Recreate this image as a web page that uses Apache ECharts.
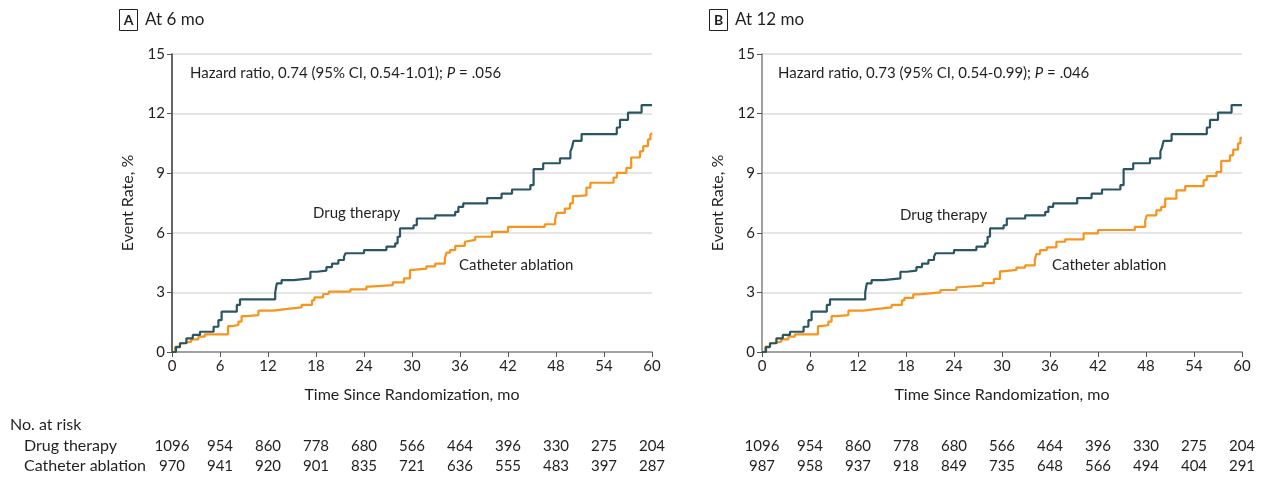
<!DOCTYPE html>
<html>
<head>
<meta charset="utf-8">
<script src="https://cdn.jsdelivr.net/npm/echarts@6/dist/echarts.min.js"></script>
<style>
html,body{margin:0;padding:0;background:#fff;}
#c{width:1265px;height:493px;}
</style>
</head>
<body>
<div id="c"></div>
<script>
// ---- Data (months, cumulative event rate %) ----
const timeTicks = [0, 6, 12, 18, 24, 30, 36, 42, 48, 54, 60];
const yTicks = [0, 3, 6, 9, 12, 15];

const drugA = [[0,0],[0.5,0.25],[1,0.44],[1.8,0.69],[2.6,0.86],[3.5,1.02],[5.2,1.27],[5.8,1.6],[6.2,2.03],[8.1,2.37],[8.5,2.65],[12.9,3.0],[13.1,3.45],[13.7,3.62],[15.2,3.71],[17.3,4.04],[18.1,4.1],[19.3,4.27],[20.0,4.45],[20.8,4.63],[21.5,4.8],[21.7,4.97],[24.0,5.13],[26.8,5.3],[27.9,5.47],[28.2,5.8],[28.5,6.22],[30.2,6.38],[30.6,6.72],[32.9,6.88],[35.4,7.05],[35.8,7.3],[36.4,7.48],[39.4,7.75],[41.2,7.97],[42.5,8.18],[44.8,8.4],[45.2,9.21],[46.4,9.5],[48.5,9.75],[49.8,10.08],[50.0,10.3],[50.2,10.63],[51.2,10.97],[55.6,11.3],[56.0,11.68],[57.0,12.05],[58.7,12.43],[60,12.43]];

const cathA = [[0,0],[0.4,0.27],[1.0,0.44],[1.4,0.52],[2.4,0.64],[3.3,0.77],[4.1,0.89],[7.0,1.3],[7.5,1.36],[8.3,1.53],[8.7,1.81],[9.3,1.86],[10.8,2.08],[12.7,2.15],[13.9,2.25],[16.2,2.37],[17.5,2.6],[17.8,2.75],[18.9,2.92],[19.6,3.04],[22.3,3.15],[24.3,3.29],[24.7,3.37],[27.6,3.5],[29.0,3.71],[29.75,4.13],[30.1,4.2],[31.8,4.31],[32.9,4.45],[34.1,4.7],[34.3,5.0],[34.75,5.13],[35.4,5.34],[36.6,5.55],[36.8,5.64],[37.9,5.8],[40.0,6.05],[42.0,6.3],[46.6,6.43],[47.9,6.7],[48.1,7.0],[49.1,7.22],[49.75,7.48],[50.1,7.85],[50.6,7.88],[51.8,8.27],[52.3,8.52],[55.2,8.78],[55.6,9.02],[56.8,9.27],[57.4,9.79],[58.5,10.1],[58.9,10.36],[59.5,10.7],[59.8,10.95],[60,11.02]];

const drugB = [[0,0],[0.5,0.25],[1,0.44],[1.8,0.69],[2.6,0.86],[3.5,1.02],[5.2,1.27],[5.8,1.6],[6.2,2.03],[8.1,2.37],[8.5,2.65],[12.9,3.0],[13.1,3.45],[13.7,3.62],[15.2,3.71],[17.3,4.04],[18.1,4.1],[19.3,4.27],[20.0,4.45],[20.8,4.63],[21.5,4.8],[21.7,4.97],[24.0,5.13],[26.8,5.3],[27.9,5.47],[28.2,5.8],[28.5,6.22],[30.2,6.38],[30.6,6.72],[32.9,6.88],[35.4,7.05],[35.8,7.3],[36.4,7.48],[39.4,7.75],[41.2,7.97],[42.5,8.18],[44.8,8.4],[45.2,9.21],[46.4,9.5],[48.5,9.75],[49.8,10.08],[50.0,10.3],[50.2,10.63],[51.2,10.97],[55.6,11.3],[56.0,11.68],[57.0,12.05],[58.7,12.43],[60,12.43]];

const cathB = [[0,0],[0.4,0.27],[1.0,0.44],[1.4,0.52],[2.4,0.64],[3.3,0.77],[4.1,0.89],[7.0,1.3],[7.5,1.36],[8.3,1.53],[8.7,1.81],[9.3,1.86],[10.8,2.08],[12.7,2.15],[13.9,2.25],[16.2,2.37],[17.5,2.6],[17.8,2.72],[18.9,2.9],[19.6,3.0],[22.3,3.12],[24.3,3.26],[24.7,3.34],[27.6,3.47],[29.0,3.68],[29.75,4.06],[30.1,4.13],[31.8,4.25],[32.9,4.36],[34.1,4.65],[34.3,4.93],[34.75,5.13],[35.6,5.27],[36.8,5.55],[37.9,5.67],[40.2,5.97],[42.0,6.14],[46.6,6.3],[47.9,6.6],[48.1,6.88],[49.3,7.13],[49.9,7.3],[50.4,7.72],[51.8,8.14],[52.9,8.35],[55.2,8.65],[55.6,8.85],[56.8,9.06],[57.4,9.62],[58.5,9.9],[58.9,10.19],[59.5,10.5],[59.8,10.78],[60,10.8]];

const riskDrugA = [1096, 954, 860, 778, 680, 566, 464, 396, 330, 275, 204];
const riskCathA = [970, 941, 920, 901, 835, 721, 636, 555, 483, 397, 287];
const riskDrugB = [1096, 954, 860, 778, 680, 566, 464, 396, 330, 275, 204];
const riskCathB = [987, 958, 937, 918, 849, 735, 648, 566, 494, 404, 291];

const panelTitles = ['At 6 mo', 'At 12 mo'];
const panelLetters = ['A', 'B'];
const hazardA = 'Hazard ratio, 0.74 (95% CI, 0.54-1.01); ';
const hazardB = 'Hazard ratio, 0.73 (95% CI, 0.54-0.99); ';
const pA = '.056', pB = '.046';

// ---- Styling ----
const FONT = 'Lato, "Open Sans", sans-serif';
const TXT = '#231f20';
const DRUG = '#2a5563';
const CATH = '#f7941d';
const gridLefts = [172, 762];
const idxOf = v => timeTicks.indexOf(v);

const grids = [], xAxes = [], yAxes = [], series = [];
const risks = [[riskDrugA, riskCathA], [riskDrugB, riskCathB]];
const curves = [[drugA, cathA], [drugB, cathB]];
const yLineCol = ['#333', '#808080'];

for (let p = 0; p < 2; p++) {
  grids.push({left: gridLefts[p], width: 480, top: 54, bottom: 141});
  // main x axis
  xAxes.push({
    type: 'value', gridIndex: p, min: 0, max: 60, interval: 6,
    name: 'Time Since Randomization, mo', nameLocation: 'middle', nameGap: 35,
    nameTextStyle: {fontFamily: FONT, fontSize: 16, color: TXT},
    axisLine: {lineStyle: {color: '#8a8a8a', width: 1.5}},
    axisTick: {show: true, length: 5, lineStyle: {color: '#555'}},
    axisLabel: {fontFamily: FONT, fontSize: 15, color: TXT, margin: 7},
    splitLine: {show: false}
  });
  // at-risk rows as extra axes
  for (let r = 0; r < 2; r++) {
    const arr = risks[p][r];
    xAxes.push({
      type: 'value', gridIndex: p, min: 0, max: 60, interval: 6, position: 'bottom',
      offset: 87 + r * 20,
      axisLine: {show: false}, axisTick: {show: false}, splitLine: {show: false},
      axisLabel: {fontFamily: FONT, fontSize: 15, color: TXT, margin: 0,
        formatter: v => String(arr[idxOf(v)])}
    });
  }
  yAxes.push({
    type: 'value', gridIndex: p, min: 0, max: 15, interval: 3,
    name: 'Event Rate, %', nameLocation: 'middle', nameGap: 36,
    nameTextStyle: {fontFamily: FONT, fontSize: 16, color: TXT},
    axisLine: {show: true, lineStyle: {color: yLineCol[p], width: 1.5}},
    axisTick: {show: true, length: 5, lineStyle: {color: '#555'}},
    axisLabel: {fontFamily: FONT, fontSize: 15, color: TXT, margin: 7},
    splitLine: {show: true, lineStyle: {color: '#dcdcdc', width: 1.5}}
  });
  const xi = p * 3;
  series.push({
    type: 'line', name: 'Drug therapy', xAxisIndex: xi, yAxisIndex: p, step: 'end',
    data: curves[p][0], showSymbol: false, lineStyle: {color: DRUG, width: 2.2}, z: 3
  });
  series.push({
    type: 'line', name: 'Catheter ablation', xAxisIndex: xi, yAxisIndex: p, step: 'end',
    data: curves[p][1], showSymbol: false, lineStyle: {color: CATH, width: 2.2}, z: 2
  });
}

const txt = (x, y, s, size) => ({
  type: 'text', x: x, y: y,
  style: {text: s, fontFamily: FONT, fontSize: size || 15, fill: TXT, textVerticalAlign: 'middle'}
});

const graphic = [];
const panelOffsets = [0, 590];
const hz = [[hazardA, pA], [hazardB, pB]];
const lblPos = [[[313, 213], [459, 265]], [[900, 215], [1052, 265]]];
for (let p = 0; p < 2; p++) {
  const o = panelOffsets[p];
  graphic.push({type: 'rect', shape: {x: 119.5 + o, y: 9.5, width: 18, height: 21},
    style: {fill: '#fff', stroke: '#231f20', lineWidth: 1}});
  graphic.push({type: 'text', x: 128.5 + o, y: 20.5,
    style: {text: panelLetters[p], fontFamily: FONT, fontSize: 14, fontWeight: 'bold', fill: TXT,
      textAlign: 'center', textVerticalAlign: 'middle'}});
  graphic.push(txt(145 + o, 20, panelTitles[p], 17));
  graphic.push({type: 'text', x: 190 + o - (p ? 2 : 0), y: 73,
    style: {text: '{n|' + hz[p][0] + '}{i|P}{n| = ' + hz[p][1] + '}', textVerticalAlign: 'middle',
      rich: {n: {fontFamily: FONT, fontSize: 15, fill: TXT, color: TXT},
             i: {fontFamily: FONT, fontSize: 15, fontStyle: 'italic', fill: TXT, color: TXT}}}});
  graphic.push(txt(lblPos[p][0][0], lblPos[p][0][1], 'Drug therapy'));
  graphic.push(txt(lblPos[p][1][0], lblPos[p][1][1], 'Catheter ablation'));
}
graphic.push(txt(10, 425, 'No. at risk', 16));
graphic.push(txt(24, 446, 'Drug therapy', 16));
graphic.push(txt(24, 466, 'Catheter ablation', 16));

const chart = echarts.init(document.getElementById('c'), null, {renderer: 'canvas'});
chart.setOption({
  animation: false,
  backgroundColor: '#fff',
  grid: grids, xAxis: xAxes, yAxis: yAxes, series: series, graphic: graphic
});
</script>
</body>
</html>
